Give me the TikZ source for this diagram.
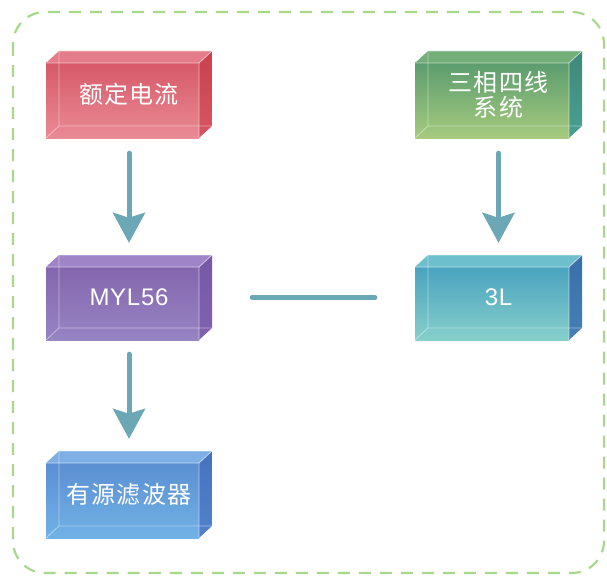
\documentclass[tikz,border=0pt]{standalone}
\usepackage{fontspec}
\setmainfont{Liberation Sans}
\newfontfamily\cjkfont[LetterSpace=5]{Noto Sans CJK SC}
\newfontfamily\latfont[LetterSpace=3]{Liberation Sans}
\usetikzlibrary{arrows.meta}

\definecolor{redtop}{HTML}{D65968}\definecolor{redbot}{HTML}{EA8B95}
\definecolor{redlid}{HTML}{E57C89}\definecolor{redside}{HTML}{C8414F}\definecolor{redsideb}{HTML}{D75663}
\definecolor{grntop}{HTML}{5C9C6E}\definecolor{grnbot}{HTML}{A5CB7F}
\definecolor{grnlid}{HTML}{74AE79}\definecolor{grnside}{HTML}{3E8878}\definecolor{grnsideb}{HTML}{4AA092}
\definecolor{purtop}{HTML}{8466AE}\definecolor{purbot}{HTML}{9784C3}
\definecolor{purlid}{HTML}{9F85C8}\definecolor{purside}{HTML}{7557A6}\definecolor{pursideb}{HTML}{7F63B0}
\definecolor{teatop}{HTML}{4AA3BF}\definecolor{teabot}{HTML}{86CFCB}
\definecolor{tealid}{HTML}{6DBFCD}\definecolor{teaside}{HTML}{3A6FA9}\definecolor{teasideb}{HTML}{4580B4}
\definecolor{blutop}{HTML}{5B8FD2}\definecolor{blubot}{HTML}{71B2E6}
\definecolor{blulid}{HTML}{7EB0E6}\definecolor{bluside}{HTML}{4673BF}\definecolor{blusideb}{HTML}{5282C9}
\definecolor{arrowc}{HTML}{6BA7B4}
\definecolor{bordc}{HTML}{A8D88A}

\tikzset{
  boxtext/.style={text=white, inner sep=0pt, align=center},
  cjktext/.style={font=\cjkfont\fontsize{24}{25}\selectfont},
  lattext/.style={font=\latfont\fontsize{24}{26}\selectfont},
  conn/.style={line width=5pt, draw=arrowc, line cap=round},
  bigtip/.style={-{Stealth[length=30pt,width=32pt,inset=5pt]}},
  hidden/.style={white, opacity=0.45, line width=0.8pt},
  highlight/.style={white, opacity=0.6, line width=0.8pt},
  border/.style={draw=bordc, line width=2.2pt, dash pattern=on 12pt off 9pt, rounded corners=32pt}
}

% #1 name, #2 x0, #3 y0 (front top), #4 x1, #5 y1 (front bottom), #6 colour prefix, #7 text style, #8 text
\newcommand{\glassbox}[8]{%
  \shade[top color=#6top, bottom color=#6bot] (#2,#3) rectangle (#4,#5);
  \fill[#6lid] (#2,#3) -- (#2+13,#3-12) -- (#4+13,#3-12) -- (#4,#3) -- cycle;
  \shade[top color=#6side, bottom color=#6sideb] (#4,#3) -- (#4+13,#3-12) -- (#4+13,#5-12) -- (#4,#5) -- cycle;
  \draw[hidden] (#2,#5) -- (#2+13,#5-12) -- (#4+13,#5-12) (#2+13,#5-12) -- (#2+13,#3-12);
  \draw[highlight] (#2,#3) -- (#4,#3) -- (#4+13,#3-12) (#4,#3) -- (#4,#5) (#2+13,#3-12) -- (#4+13,#3-12);
  \node[boxtext, #7, minimum width={#4+13-#2}, minimum height={#5-#3+12}] (#1) at ({(#2+#4+13)/2},{(#3+#5-12)/2}) {#8};
}

\begin{document}
\begin{tikzpicture}[x=1pt, y=-1pt]
\useasboundingbox (0,0) rectangle (607,575);
\draw[border] (13,12) rectangle (604,573);

\glassbox{r}{46}{63}{199}{138}{red}{cjktext}{额定电流}
\glassbox{g}{415}{63}{569}{138}{grn}{cjktext}{三相四线\\系统}
\glassbox{p}{46}{267}{199}{340}{pur}{lattext}{MYL56}
\glassbox{t}{415}{267}{569}{340}{tea}{lattext}{3L}
\glassbox{b}{46}{463}{199}{538}{blu}{cjktext}{有源滤波器}

\draw[conn, bigtip, shorten <=15pt, shorten >=12pt] (r.south) -- (p.north);
\draw[conn, bigtip, shorten <=15pt, shorten >=12pt] (g.south) -- (t.north);
\draw[conn, bigtip, shorten <=14pt, shorten >=12pt] (p.south) -- (b.north);
\draw[conn, shorten <=40pt, shorten >=40pt] (p.east) -- (t.west);
\end{tikzpicture}
\end{document}
